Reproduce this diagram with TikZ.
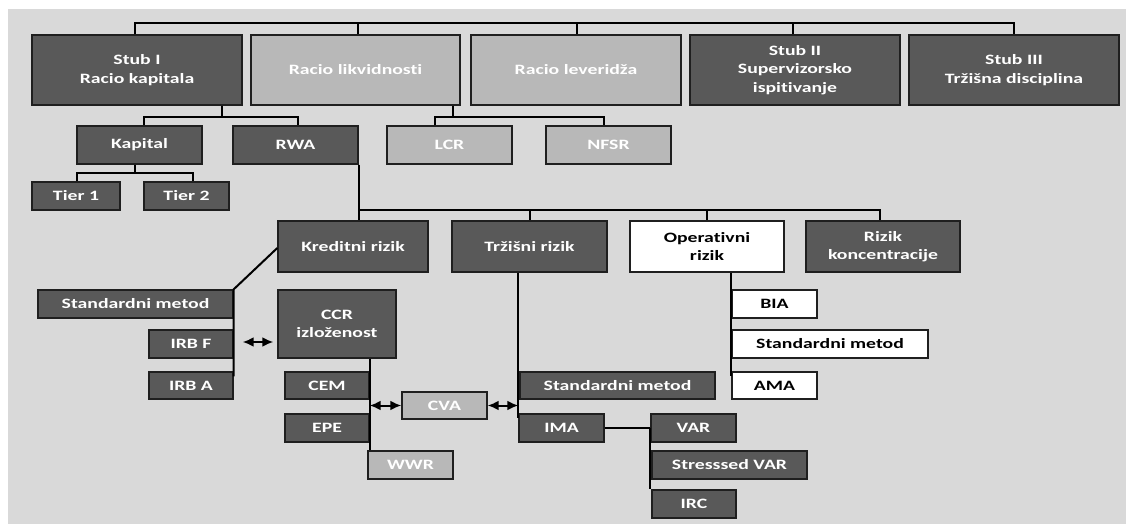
\documentclass[tikz,border=0pt]{standalone}
\usepackage{fontspec}
\setmainfont{Carlito}[FakeStretch=1.38, Ligatures=NoCommon]
\usetikzlibrary{arrows.meta}
\definecolor{bgc}{HTML}{D9D9D9}
\definecolor{darkc}{HTML}{595959}
\definecolor{lightc}{HTML}{B8B8B8}
\definecolor{linec}{HTML}{1F1F1F}
\tikzset{
  box/.style={draw=linec, line width=1.4pt, inner sep=0pt, align=center,
    font=\fontsize{14.3}{18.5}\selectfont\bfseries},
  dk/.style={box, fill=darkc, text=white},
  lt/.style={box, fill=lightc, text=white},
  wt/.style={box, fill=white, text=black},
  conn/.style={line width=2pt, black},
  dbl/.style={conn, {Latex[length=11pt,width=10pt]}-{Latex[length=11pt,width=10pt]}}
}
\begin{document}
\begin{tikzpicture}[x=1pt,y=-1pt]
\useasboundingbox (0,0) rectangle (1126,524);
\fill[bgc] (8,9) rectangle (1126,524);
% top row
\node[dk, minimum width=210pt, minimum height=70pt] (s1) at (137,70) {Stub I\\Racio kapitala};
\node[lt, minimum width=209pt, minimum height=70pt] (rl) at (355.5,70) {Racio likvidnosti};
\node[lt, minimum width=210pt, minimum height=70pt] (rv) at (576,70) {Racio leveridža};
\node[dk, minimum width=210pt, minimum height=70pt] (s2) at (795,70) {Stub II\\Supervizorsko\\ispitivanje};
\node[dk, minimum width=210pt, minimum height=70pt] (s3) at (1014,70) {Stub III\\Tržišna disciplina};
% second row
\node[dk, minimum width=125pt, minimum height=38pt] (kap) at (139.5,145) {Kapital};
\node[dk, minimum width=125pt, minimum height=38pt] (rwa) at (295.5,145) {RWA};
\node[lt, minimum width=125pt, minimum height=38pt] (lcr) at (449.5,145) {LCR};
\node[lt, minimum width=125pt, minimum height=38pt] (nfsr) at (608.5,145) {NFSR};
% tiers
\node[dk, minimum width=88pt, minimum height=28pt] (t1) at (76,196) {Tier 1};
\node[dk, minimum width=85pt, minimum height=28pt] (t2) at (186.5,196) {Tier 2};
% risk row
\node[dk, minimum width=150pt, minimum height=51pt] (kr) at (353,246.5) {Kreditni rizik};
\node[dk, minimum width=155pt, minimum height=51pt] (tr) at (529.5,246.5) {Tržišni rizik};
\node[wt, minimum width=154pt, minimum height=51pt] (op) at (707,246.5) {Operativni\\rizik};
\node[dk, minimum width=154pt, minimum height=51pt] (rk) at (883,246.5) {Rizik\\koncentracije};
% credit risk
\node[dk, minimum width=195pt, minimum height=28pt] (sm1) at (135.5,304) {Standardni metod};
\node[dk, minimum width=84pt, minimum height=28pt] (irbf) at (191,344) {IRB F};
\node[dk, minimum width=84pt, minimum height=27pt] (irba) at (191,385.5) {IRB A};
\node[dk, minimum width=118pt, minimum height=68pt] (ccr) at (337,324) {CCR\\izloženost};
\node[dk, minimum width=84pt, minimum height=27pt] (cem) at (327,385.5) {CEM};
\node[dk, minimum width=84pt, minimum height=28pt] (epe) at (327,428) {EPE};
\node[lt, minimum width=85pt, minimum height=27pt] (cva) at (444.5,405.5) {CVA};
\node[lt, minimum width=85pt, minimum height=28pt] (wwr) at (410.5,465) {WWR};
% market risk
\node[dk, minimum width=195pt, minimum height=27pt] (sm2) at (617.5,385.5) {Standardni metod};
\node[dk, minimum width=85pt, minimum height=28pt] (ima) at (561.5,428) {IMA};
\node[dk, minimum width=85pt, minimum height=28pt] (var) at (693.5,428) {VAR};
\node[dk, minimum width=155pt, minimum height=28pt] (svar) at (729.5,465) {Stresssed VAR};
\node[dk, minimum width=84pt, minimum height=28pt] (irc) at (694,504) {IRC};
% operational risk
\node[wt, minimum width=85pt, minimum height=28pt] (bia) at (774.5,304) {BIA};
\node[wt, minimum width=196pt, minimum height=28pt] (sm3) at (830,344) {Standardni metod};
\node[wt, minimum width=85pt, minimum height=27pt] (ama) at (774.5,385.5) {AMA};
% coordinates for buses
\coordinate (topbus) at (0,23.5);
\coordinate (bus1) at (0,117);
\coordinate (bus2) at (0,173);
\coordinate (bus3) at (0,210);
% top connectors
\draw[conn] ([xshift=-2pt]s1.north) -- ([xshift=-2pt]s1.north |- topbus) -| (s3.north);
\draw[conn] ([xshift=2.5pt]rl.north) -- ([xshift=2.5pt]rl.north |- topbus);
\draw[conn] ([xshift=1pt]rv.north) -- ([xshift=1pt]rv.north |- topbus);
\draw[conn] ([xshift=-2pt]s2.north) -- ([xshift=-2pt]s2.north |- topbus);
% Stub I children
\draw[conn] ([xshift=85pt]s1.south) -- ([xshift=85pt]s1.south |- bus1);
\draw[conn] ([xshift=4.5pt]kap.north) -- ([xshift=4.5pt]kap.north |- bus1) -| ([xshift=2.5pt]rwa.north);
% liquidity children
\draw[conn] ([xshift=97.5pt]rl.south) -- ([xshift=97.5pt]rl.south |- bus1);
\draw[conn] ([xshift=-14.5pt]lcr.north) -- ([xshift=-14.5pt]lcr.north |- bus1) -| ([xshift=-4.5pt]nfsr.north);
% capital children
\draw[conn] ([xshift=-4.5pt]kap.south) -- ([xshift=-4.5pt]kap.south |- bus2);
\draw[conn] ([xshift=1pt]t1.north) -- ([xshift=1pt]t1.north |- bus2) -| ([xshift=6.5pt]t2.north);
% RWA children
\draw[conn] (rwa.south east) -- (rwa.south east |- kr.north);
\draw[conn] (rwa.south east |- bus3) -| ([xshift=-3pt]rk.north);
\draw[conn] (tr.north |- bus3) -- (tr.north);
\draw[conn] (op.north |- bus3) -- (op.north);
% credit risk
\draw[conn] ([yshift=-1.5pt]kr.west) -- (sm1.north east) -- ([yshift=-5pt]irba.north east);
\draw[dbl] ([xshift=9pt,yshift=2pt]irbf.east) -- ([xshift=-4pt,yshift=2pt]irbf.east -| ccr.west);
\draw[conn] (cem.east |- ccr.south) -- (cem.east |- wwr.north);
\draw[dbl] (cva.west -| cem.east) -- (cva.west);
\draw[dbl] (cva.east) -- ([xshift=-1pt]cva.east -| sm2.west);
% market risk
\draw[conn] (ima.west |- tr.south) -- ([yshift=-5pt]ima.north west);
\draw[conn] (ima.east) -- (var.west);
\draw[conn] (var.west) -- (var.west |- irc.north);
% operational risk
\draw[conn] (bia.west |- op.south) -- ([yshift=-5pt]ama.north west);
\end{tikzpicture}
\end{document}
